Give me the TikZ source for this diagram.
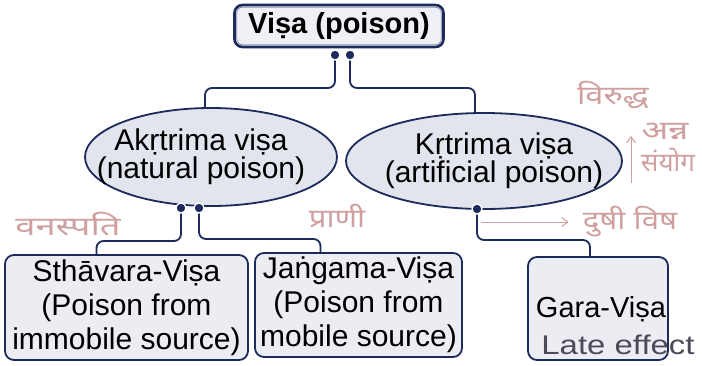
\documentclass[tikz,border=0pt]{standalone}
\usepackage{fontspec}
\setmainfont{Liberation Sans}
\newfontfamily\deva[Script=Devanagari]{Noto Sans}
\usetikzlibrary{shapes.geometric,arrows.meta}
\definecolor{navy}{HTML}{1C2A5C}
\definecolor{boxfill}{HTML}{ECEDF3}
\definecolor{ovalfill}{HTML}{E3E5EE}
\definecolor{topfill}{HTML}{EEF0F5}
\definecolor{rimline}{HTML}{8A90AC}
\definecolor{pencil}{HTML}{D0A0A0}
\definecolor{ink}{HTML}{4A4A58}
\tikzset{
  conn/.style={draw=navy, line width=1.8pt, rounded corners=7pt},
  dotnode/.style={circle, fill=navy, draw=white, line width=1.3pt, inner sep=0pt, minimum size=10pt},
  leaf/.style={rectangle, rounded corners=9pt, draw=navy, line width=1.8pt, fill=boxfill,
    align=center, inner sep=0pt, font=\fontsize{30}{34}\selectfont},
  oval/.style={ellipse, draw=navy, line width=1.8pt, fill=ovalfill, inner sep=0pt},
  ovaltext/.style={align=center, inner sep=0pt, font=\fontsize{30}{28}\selectfont},
  rootbox/.style={rectangle, rounded corners=8pt, draw=navy, line width=2.6pt, fill=topfill,
    inner sep=0pt, font=\bfseries\fontsize{29}{30}\selectfont},
  hand/.style={text=pencil, inner sep=0pt, font=\deva\fontsize{26}{26}\selectfont},
  handink/.style={text=ink, inner sep=0pt, font=\fontsize{27}{27}\selectfont},
  handarrow/.style={draw=pencil, line width=1pt, -{Straight Barb[length=6pt,width=9pt]}},
}
\begin{document}
\begin{tikzpicture}[x=1pt,y=-1pt]
\useasboundingbox[fill=white] (0,0) rectangle (702,365);

% root
\node[rootbox, minimum width=209pt, minimum height=42pt] (root) at (339,26) {Viṣa (poison)};
\draw[draw=rimline, line width=0.8pt, rounded corners=6pt]
  ([shift={(3.5pt,-3.5pt)}]root.north west) rectangle ([shift={(-3.5pt,3.5pt)}]root.south east);

% two kinds of poison
\node[oval, minimum width=252pt, minimum height=98pt] (akr) at (211,157) {};
\node[ovaltext] (akrt) at (201,157) {Akṛtrima viṣa\\(natural poison)};
\node[oval, minimum width=276pt, minimum height=96pt] (kr) at (484,161) {};
\node[ovaltext] (krt) at (494,161) {Kṛtrima viṣa\\(artificial poison)};

% leaves
\node[leaf, minimum width=243pt, minimum height=105pt] (sth) at (126.5,307.5)
  {Sthāvara-Viṣa\\(Poison from\\immobile source)};
\node[leaf, minimum width=207pt, minimum height=104pt] (jan) at (358.5,305)
  {Jaṅgama-Viṣa\\(Poison from\\mobile source)};
\node[leaf, minimum width=140pt, minimum height=103pt] (gara) at (598,308.5) {};
\node[font=\fontsize{29}{30}\selectfont, inner sep=0pt] (garat) at (601,309) {Gara-Viṣa};

% junction points
\coordinate (r1) at (335,55);
\coordinate (r2) at (350,55);
\coordinate (a1) at (181,208);
\coordinate (a2) at (199,208);
\coordinate (k1) at (477,209);

% connectors
\draw[conn] (r1) -- ++(0,33) -| ([xshift=-6pt]akr.north);
\draw[conn] (r2) -- ++(0,33) -| ([xshift=-9pt]kr.north);
\draw[conn] (a1) -- ++(0,33) -| ([xshift=-30pt]sth.north);
\draw[conn] (a2) -- ++(0,31) -| ([xshift=-38pt]jan.north);
\draw[conn] (k1) -- ++(0,31) -| ([xshift=-8pt]gara.north);
\node[dotnode] (r1d) at (r1) {};
\node[dotnode] (r2d) at (r2) {};
\node[dotnode] (a1d) at (a1) {};
\node[dotnode] (a2d) at (a2) {};
\node[dotnode] (k1d) at (k1) {};

% pencil notes
\node[hand, xscale=1.4] (vanas) at (68,224) {वनस्पति};
\node[hand, xscale=1.2] (prani) at (337,216) {प्राणी};
\node[hand, xscale=1.2] (dushi) at (630,222) {दुषी विष};
\coordinate (dstart) at (481,222);
\draw[handarrow] (dstart) -- ([xshift=-14pt]dushi.west);
\node[hand, xscale=1.25] (viru) at (613,95) {विरुद्ध};
\node[hand, xscale=1.35] (anna) at (665,131) {अन्न};
\node[hand] (samy) at (668,160) {संयोग};
\coordinate (upstart) at (631,183);
\coordinate (upend) at (631,136);
\draw[handarrow] (upstart) -- (upend);
\node[handink, xscale=1.22] (late) at (618,345) {Late effect};
\end{tikzpicture}
\end{document}
